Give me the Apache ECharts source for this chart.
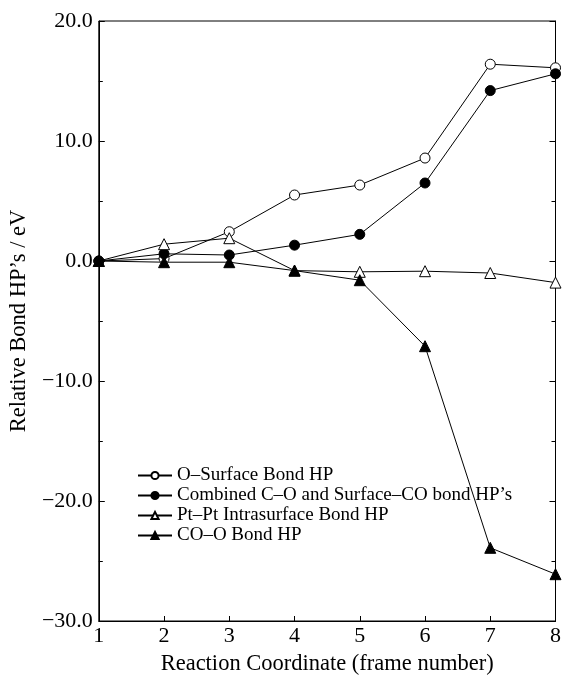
<!DOCTYPE html>
<html>
<head>
<meta charset="utf-8">
<script src="https://cdn.jsdelivr.net/npm/echarts@6/dist/echarts.min.js"></script>
<style>
  html, body { margin: 0; padding: 0; background: #fff; }
  #chart { width: 564px; height: 681px; }
</style>
</head>
<body>
<div id="chart"></div>
<script>
const frames = [1, 2, 3, 4, 5, 6, 7, 8]
const oSurface = [0, 0.2, 2.44, 5.5, 6.33, 8.58, 16.4, 16.1]
const combined = [0, 0.6, 0.5, 1.32, 2.22, 6.5, 14.2, 15.6]
const ptPt = [0, 1.4, 1.9, -0.8, -0.9, -0.85, -1.0, -1.8]
const coO = [0, -0.1, -0.1, -0.8, -1.6, -7.1, -23.9, -26.1]

const seriesNames = [
  'O\u2013Surface Bond HP',
  'Combined C\u2013O and Surface\u2013CO bond HP\u2019s',
  'Pt\u2013Pt Intrasurface Bond HP',
  'CO\u2013O Bond HP'
]

const font = '"Liberation Serif", "DejaVu Serif", serif'

function pairs(vals) {
  return frames.map((f, i) => [f, vals[i]])
}

function lineSeries(name, vals, symbol, filled) {
  return {
    name,
    type: 'line',
    data: pairs(vals),
    symbol,
    symbolSize: symbol === 'triangle' ? 11 : 10,
    lineStyle: { color: '#000', width: 1 },
    itemStyle: {
      color: filled ? '#000' : '#fff',
      borderColor: '#000',
      borderWidth: 1
    },
    emphasis: { disabled: true },
    z: 3
  }
}

const chart = echarts.init(document.getElementById('chart'))
chart.setOption({
  animation: false,
  backgroundColor: '#fff',
  textStyle: { fontFamily: font, color: '#000' },
  grid: {
    left: 92, right: 8, top: 21, bottom: 52,
    show: true, borderColor: '#000', borderWidth: 1
  },
  legend: {
    left: 132, top: 461,
    orient: 'vertical',
    itemGap: 1,
    itemWidth: 34,
    itemHeight: 9,
    textStyle: { fontFamily: font, fontSize: 19, color: '#000' },
    data: seriesNames
  },
  xAxis: {
    type: 'value',
    min: 1, max: 8, interval: 1,
    name: 'Reaction Coordinate (frame number)',
    nameLocation: 'middle',
    nameGap: 32,
    nameTextStyle: { fontFamily: font, fontSize: 22.5, color: '#000' },
    axisLine: { onZero: false, lineStyle: { color: '#000', width: 1 } },
    axisTick: { inside: true, length: 5, lineStyle: { color: '#000' } },
    axisLabel: { fontFamily: font, fontSize: 22, color: '#000', margin: 4 },
    splitLine: { show: false }
  },
  yAxis: [{
    type: 'value',
    min: -30, max: 20, interval: 10,
    name: 'Relative Bond HP\u2019s / eV',
    nameLocation: 'middle',
    nameGap: 58,
    nameTextStyle: { fontFamily: font, fontSize: 22.5, color: '#000' },
    axisLine: { show: true, onZero: false, lineStyle: { color: '#000', width: 1 } },
    axisTick: { inside: true, length: 6, lineStyle: { color: '#000' } },
    minorTick: { show: true, splitNumber: 2, length: 4, lineStyle: { color: '#000' } },
    axisLabel: {
      fontFamily: font, fontSize: 22, color: '#000', margin: 6,
      formatter: v => (v < 0 ? '\u2212' + Math.abs(v).toFixed(1) : v.toFixed(1))
    },
    splitLine: { show: false }
  }, {
    type: 'value',
    position: 'right',
    min: -30, max: 20, interval: 10,
    axisLine: { show: true, onZero: false, lineStyle: { color: '#000', width: 1 } },
    axisTick: { show: true, inside: true, length: 6, lineStyle: { color: '#000' } },
    minorTick: { show: true, splitNumber: 2, length: 4, lineStyle: { color: '#000' } },
    axisLabel: { show: false },
    splitLine: { show: false }
  }],
  series: [
    lineSeries(seriesNames[0], oSurface, 'circle', false),
    lineSeries(seriesNames[1], combined, 'circle', true),
    lineSeries(seriesNames[2], ptPt, 'triangle', false),
    lineSeries(seriesNames[3], coO, 'triangle', true)
  ]
})
</script>
</body>
</html>
